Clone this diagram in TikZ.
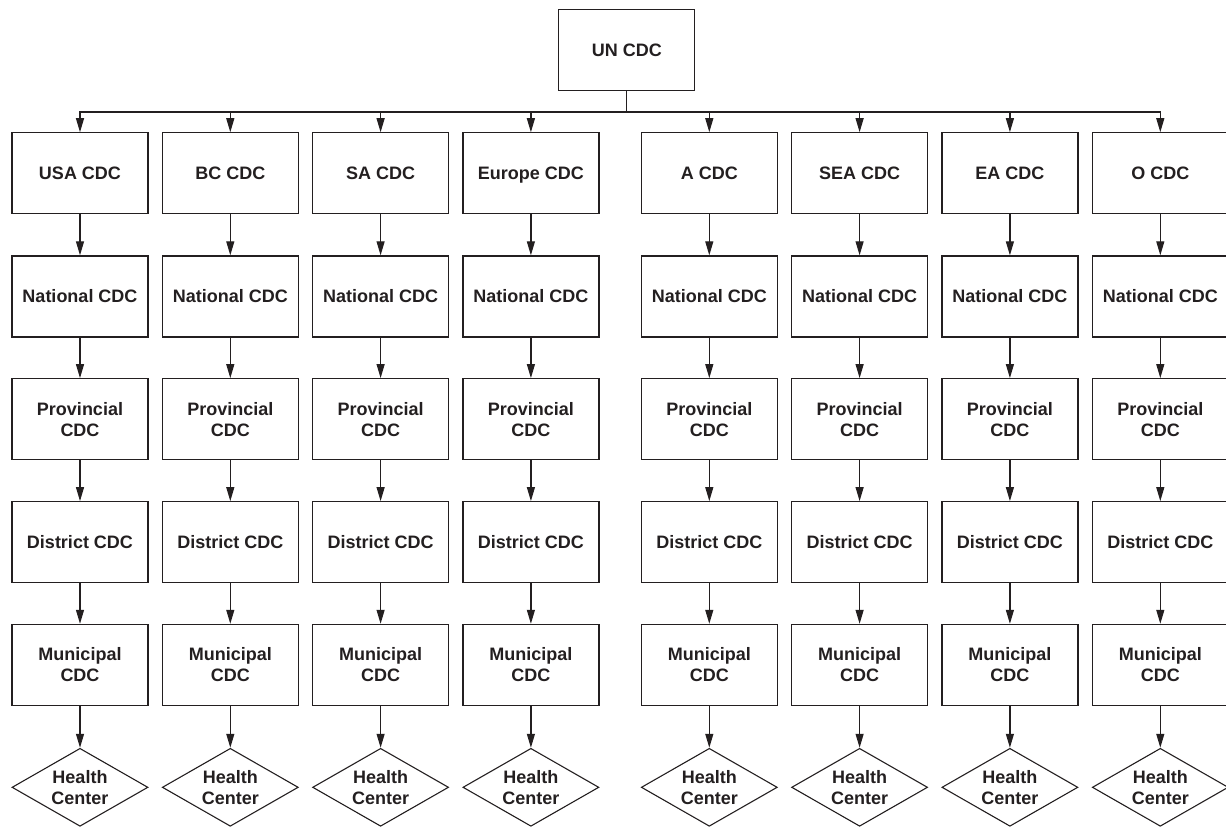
\documentclass[tikz,border=0pt]{standalone}
\usepackage{fontspec}
\setmainfont{Liberation Sans}
\usetikzlibrary{arrows.meta,shapes.geometric}
\definecolor{ink}{HTML}{231F20}
\newcommand{\nodepth}[1]{\raisebox{0pt}[\height][0pt]{#1}}
\begin{document}
\begin{tikzpicture}[x=1pt,y=-1pt,
  every node/.style={font=\fontsize{18}{21}\selectfont\bfseries, text=ink, align=center},
  cdcbox/.style={draw=ink, line width=1.2pt, rectangle, minimum width=136pt, minimum height=81pt, inner sep=0pt},
  hcdiamond/.style={draw=ink, line width=1.1pt, diamond, aspect=1.73, minimum width=136pt, minimum height=78pt, inner sep=0pt},
  link/.style={draw=ink, line width=1.2pt},
  arr/.style={link, -{Triangle[length=14pt,width=8pt]}}]
\useasboundingbox (0,0) rectangle (1226,828);
\node[cdcbox] (un) at (626.8,50.2) {UN CDC};
\coordinate (bus) at (626.8,112);
\draw[link] (un.south) -- (bus);
\foreach \n/\x/\t in {c1/80/USA CDC, c2/230.3/BC CDC, c3/380.6/SA CDC, c4/530.9/Europe CDC,
                       c5/709.3/A CDC, c6/859.6/SEA CDC, c7/1009.9/EA CDC, c8/1160.3/O CDC}{
  \node[cdcbox] (\n r1) at (\x,173.3) {\nodepth{\t}};
  \node[cdcbox] (\n r2) at (\x,296.4) {National CDC};
  \node[cdcbox] (\n r3) at (\x,419.2) {Provincial\\CDC};
  \node[cdcbox] (\n r4) at (\x,542.2) {District CDC};
  \node[cdcbox] (\n r5) at (\x,664.9) {Municipal\\CDC};
  \node[hcdiamond] (\n hc) at (\x,787.3) {Health\\Center};
  \draw[arr] (bus) -| (\n r1.north);
  \draw[arr] (\n r1.south) -- (\n r2.north);
  \draw[arr] (\n r2.south) -- (\n r3.north);
  \draw[arr] (\n r3.south) -- (\n r4.north);
  \draw[arr] (\n r4.south) -- (\n r5.north);
  \draw[arr] (\n r5.south) -- (\n hc.north);
}
\end{tikzpicture}
\end{document}
